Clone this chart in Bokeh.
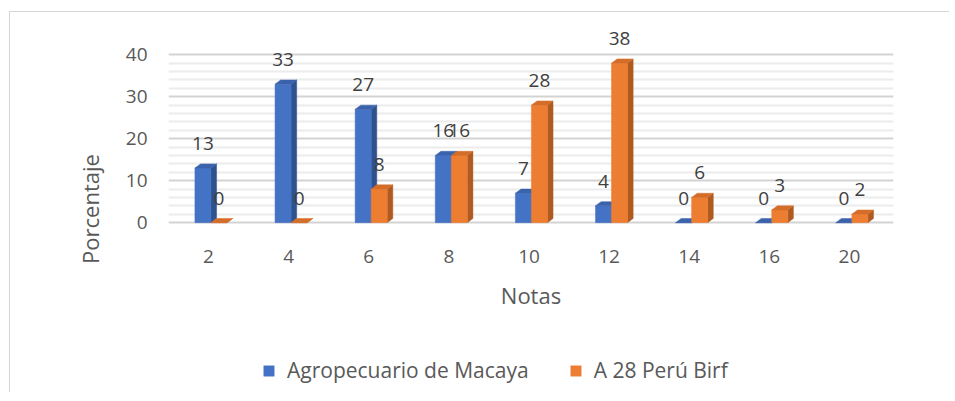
from bokeh.plotting import figure
from bokeh.models import Range1d, FixedTicker, Legend, LegendItem, ColumnDataSource
from bokeh.embed import file_html
from bokeh.resources import INLINE
from bokeh.core.properties import value

# ---- data ----
categories = ["2", "4", "6", "8", "10", "12", "14", "16", "20"]
macaya = [13, 33, 27, 16, 7, 4, 0, 0, 0]
birf = [0, 0, 8, 16, 28, 38, 6, 3, 2]
series_names = ["Agropecuario de Macaya", "A 28 Perú Birf"]
y_ticks = [0, 10, 20, 30, 40]
y_minor = [2, 4, 6, 8, 12, 14, 16, 18, 22, 24, 26, 28, 32, 34, 36, 38]

FONT = "Open Sans"
TXT = "#595959"
LBL = "#404040"
colors = [("#4472C4", "#2F528F", "#3A63AC"), ("#ED7D31", "#AE5A21", "#D46D28")]

W = 0.2             # bar width (category units)
SHIFT = 0.03        # small 3D perspective shift of the bar pairs
DX, DY = 0.07, 1.0  # fake depth

p = figure(width=940, height=381,
           x_range=Range1d(-0.5, 8.55), y_range=Range1d(-40, 46.5),
           output_backend="svg", toolbar_location=None,
           min_border_left=158, min_border_right=57,
           min_border_top=15, min_border_bottom=3)
p.styles = {"margin-top": "11px", "margin-left": "9px",
            "border-top": "1px solid #D6D6D6", "border-left": "1px solid #D6D6D6"}
p.outline_line_color = None
p.background_fill_color = "white"

# grid
p.xgrid.grid_line_color = None
p.ygrid.ticker = FixedTicker(ticks=y_ticks, minor_ticks=y_minor)
p.ygrid.grid_line_color = "#D3D3D3"
p.ygrid.grid_line_width = 2
p.ygrid.minor_grid_line_color = "#ECECEC"
p.ygrid.minor_grid_line_width = 2

renderers = []
for s, vals in enumerate([macaya, birf]):
    front, side, top = colors[s]
    off = SHIFT + (-W / 2 if s == 0 else W / 2)
    xc = [i + off for i in range(len(categories))]
    x0 = [x - W / 2 for x in xc]
    x1 = [x + W / 2 for x in xc]
    src = ColumnDataSource(dict(x=xc, top=vals))
    side_xs = [[a, a + DX, a + DX, a] for a in x1]
    side_ys = [[0, DY, v + DY, v] for v in vals]
    top_xs = [[a, a + DX, b + DX, b] for a, b in zip(x0, x1)]
    top_ys = [[v, v + DY, v + DY, v] for v in vals]
    p.patches(side_xs, side_ys, fill_color=side, line_color=side, line_width=0.5)
    r = p.vbar(x="x", top="top", width=W, bottom=0, source=src,
               fill_color=front, line_color=front, line_width=0.5)
    p.patches(top_xs, top_ys, fill_color=top, line_color=top, line_width=0.5)
    renderers.append(r)

for s, vals in enumerate([macaya, birf]):
    off = SHIFT + (-W / 2 if s == 0 else W / 2)
    xc = [i + off for i in range(len(categories))]
    p.text(x=xc, y=vals, text=[str(v) for v in vals],
           text_font=value(FONT), text_font_size="19px", text_color=LBL,
           text_align="center", text_baseline="bottom", y_offset=-18)

# axes
p.xaxis.ticker = FixedTicker(ticks=list(range(len(categories))))
p.xaxis.major_label_overrides = {i: c for i, c in enumerate(categories)}
p.xaxis.axis_label = "Notas"
p.yaxis.ticker = FixedTicker(ticks=y_ticks)
p.yaxis.axis_label = "Porcentaje"
for ax in (p.xaxis, p.yaxis):
    ax.axis_line_color = None
    ax.major_tick_line_color = None
    ax.minor_tick_line_color = None
    ax.major_label_text_font = FONT
    ax.major_label_text_font_size = "19px"
    ax.major_label_text_color = TXT
    ax.axis_label_text_font = FONT
    ax.axis_label_text_font_size = "22px"
    ax.axis_label_text_font_style = "normal"
    ax.axis_label_text_color = TXT
p.xaxis.major_label_standoff = -147
p.xaxis.axis_label_standoff = 14
p.yaxis.major_label_standoff = 15
p.yaxis.axis_label_standoff = 18
p.yaxis.axis_label_text_align = "left"

legend = Legend(items=[LegendItem(label=series_names[0], renderers=[renderers[0]]),
                       LegendItem(label=series_names[1], renderers=[renderers[1]])],
                location=(94, 6), orientation="horizontal",
                glyph_width=13, glyph_height=13, label_standoff=12, spacing=40,
                padding=0, margin=0, background_fill_alpha=0, border_line_alpha=0,
                label_text_font=FONT, label_text_font_size="21px", label_text_color=TXT)
p.add_layout(legend)

open("out.html", "w").write(file_html(p, INLINE))
